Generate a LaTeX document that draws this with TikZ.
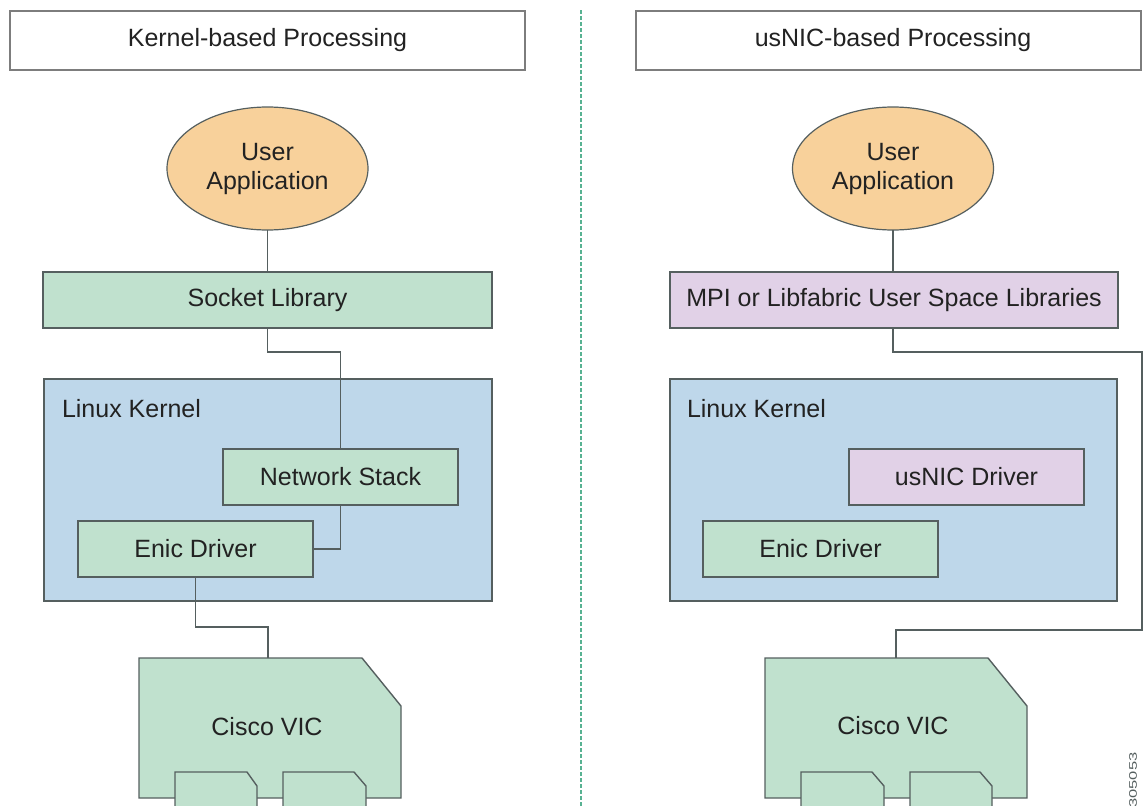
\documentclass[tikz,border=0pt]{standalone}
\usepackage{fontspec}
\setmainfont{Liberation Sans}
\usetikzlibrary{shapes.geometric,calc}
\definecolor{boxgreen}{RGB}{192,225,206}
\definecolor{kernblue}{RGB}{190,215,234}
\definecolor{libpurple}{RGB}{225,209,231}
\definecolor{apporange}{RGB}{248,209,155}
\definecolor{edgegray}{RGB}{85,95,95}
\definecolor{titlegray}{RGB}{125,125,125}
\definecolor{dashgreen}{RGB}{88,178,146}
\definecolor{txt}{RGB}{34,34,34}
\tikzset{
  x=1pt, y=-1pt,
  every node/.style={font=\fontsize{25}{29}\selectfont, text=txt, inner sep=0pt, outer sep=0pt},
  titlebox/.style={draw=titlegray, line width=1.4pt, fill=white, rectangle, minimum height=59pt},
  appnode/.style={ellipse, draw=edgegray, line width=1.2pt, fill=apporange, minimum width=201pt, minimum height=123pt, align=center},
  gbox/.style={rectangle, draw=edgegray, line width=1.4pt, fill=boxgreen, minimum height=56pt},
  pbox/.style={rectangle, draw=edgegray, line width=1.4pt, fill=libpurple, minimum height=56pt},
  kbox/.style={rectangle, draw=edgegray, line width=1.4pt, fill=kernblue, minimum width=448pt, minimum height=222pt},
  vicshape/.style={draw=edgegray, line width=1.4pt, fill=boxgreen, line join=miter},
  conn/.style={draw=edgegray, line width=1.3pt},
  klabel/.style={anchor=west},
  divider/.style={draw=dashgreen, line width=2pt, dash pattern=on 4pt off 2pt}
}
\begin{document}
\begin{tikzpicture}
\useasboundingbox (0,0) rectangle (1144,806);
% divider
\draw[divider] (581,10) -- (581,806);
% titles
\node[titlebox, minimum width=515pt] (titleL) at (267.5,40.5) {Kernel-based Processing};
\node[titlebox, minimum width=505pt, label={[xshift=4.5pt]center:usNIC-based Processing}] (titleR) at (888.5,40.5) {};
% user applications
\node[appnode] (appL) at (267.5,168.5) {User\\Application};
\node[appnode] (appR) at (893,168.5) {User\\Application};
% libraries
\node[gbox, minimum width=449pt] (sockL) at (267.5,300) {Socket Library};
\node[pbox, minimum width=448pt] (mpiR) at (894,300) {MPI or Libfabric User Space Libraries};
% kernels
\node[kbox] (kernL) at (268,490) {};
\node[kbox, minimum width=447pt] (kernR) at (893.5,490) {};
\node[klabel] (kernLlab) at (62,409) {Linux Kernel};
\node[klabel] (kernRlab) at (687,409) {Linux Kernel};
\node[gbox, minimum width=235pt] (netL) at (340.5,477) {Network Stack};
\node[pbox, minimum width=235pt] (usnicR) at (966.5,477) {usNIC Driver};
\node[gbox, minimum width=235pt] (enicL) at (195.5,549) {Enic Driver};
\node[gbox, minimum width=235pt] (enicR) at (820.5,549) {Enic Driver};
% Cisco VIC left
\draw[vicshape] (139,658) -- (362,658) -- (401,706) -- (401,798) -- (139,798) -- cycle;
\draw[vicshape] (175,812) -- (175,772) -- (247,772) -- (257,786) -- (257,812);
\draw[vicshape] (283,812) -- (283,772) -- (354,772) -- (366,786) -- (366,812);
\node (vicL) at (267,727) {Cisco VIC};
\coordinate (vicLtop) at (268,658);
% Cisco VIC right
\draw[vicshape] (765,658) -- (988,658) -- (1027,706) -- (1027,798) -- (765,798) -- cycle;
\draw[vicshape] (801,812) -- (801,772) -- (872,772) -- (884,786) -- (884,812);
\draw[vicshape] (910,812) -- (910,772) -- (980,772) -- (992,786) -- (992,812);
\node (vicR) at (893,726) {Cisco VIC};
\coordinate (vicRtop) at (896,658);
\coordinate (turnR) at (1142,630);
% connectors left
\draw[conn] (appL.south) -- (sockL.north);
\draw[conn] (sockL.south) -- ++(0,24) -| (netL.north);
\draw[conn] (netL.south) |- (enicL.east);
\draw[conn] (enicL.south) -- ++(0,50) -| (vicLtop);
% connectors right
\draw[conn] (appR.south) -- (appR.south |- mpiR.north);
\draw[conn] (mpiR.south -| appR.south) -- ++(0,24) -| (turnR) -| (vicRtop);
% figure number
\node[rotate=90, font=\fontsize{11}{13}\selectfont, text=edgegray, xscale=1.5] (fignum) at (1133,780) {305053};
\end{tikzpicture}
\end{document}
